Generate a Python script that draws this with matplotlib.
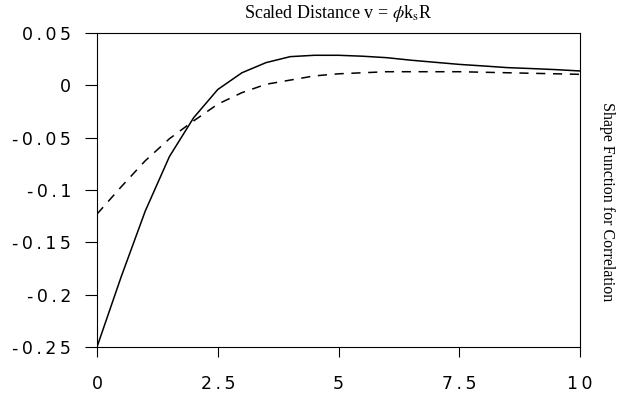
import matplotlib
matplotlib.use("Agg")
import matplotlib.pyplot as plt

# scaled distance v and the two shape functions
v = [0, 0.5, 1.0, 1.5, 2.0, 2.5, 3.0, 3.5, 4.0, 4.5, 5.0,
     5.5, 6.0, 6.5, 7.0, 7.5, 8.0, 8.5, 9.0, 9.5, 10.0]
solid = [-0.25, -0.183, -0.12, -0.068, -0.031, -0.004, 0.012, 0.0217, 0.0274, 0.0287, 0.0287,
         0.0278, 0.0264, 0.024, 0.022, 0.020, 0.0185, 0.0169, 0.016, 0.015, 0.0137]
dashed = [-0.123, -0.097, -0.072, -0.051, -0.034, -0.018, -0.007, 0.001, 0.005, 0.009, 0.011,
          0.012, 0.013, 0.013, 0.013, 0.013, 0.0125, 0.012, 0.0115, 0.011, 0.0105]

xticks = [0, 2.5, 5, 7.5, 10]
xtick_labels = ["0", "2.5", "5", "7.5", "10"]
yticks = [-0.25, -0.2, -0.15, -0.1, -0.05, 0, 0.05]
ytick_labels = ["-0.25", "-0.2", "-0.15", "-0.1", "-0.05", "0", "0.05"]


def spaced(s):
    # the original tick labels are letter-spaced
    return "\u2009".join(s)


plt.rcParams["mathtext.fontset"] = "stix"

fig = plt.figure(figsize=(6.29, 3.96), dpi=100)
ax = fig.add_axes([0.1542, 0.1237, 0.768, 0.793])

ax.plot(v, solid, color="black", linewidth=1.1)
ax.plot(v, dashed, color="black", linewidth=1.1, dashes=(6, 5))

ax.set_xlim(0, 10)
ax.set_ylim(-0.25, 0.05)

tick_font = {"family": "DejaVu Sans", "size": 12.5}
ax.set_xticks(xticks)
ax.set_xticklabels([spaced(t) for t in xtick_labels], fontdict=tick_font)
ax.set_yticks(yticks)
ax.set_yticklabels([spaced(t) for t in ytick_labels], fontdict=tick_font)
ax.tick_params(axis="x", direction="out", length=7, width=0.8, pad=13)
ax.tick_params(axis="y", direction="out", length=8.5, width=0.8, pad=10)

for s in ax.spines.values():
    s.set_linewidth(0.8)

ax.set_title(r"Scaled Distance v = $\phi$k$_{\rm s}$R", fontfamily="Liberation Serif",
             fontsize=13, pad=11)
fig.text(607 / 629, 1 - 202 / 396, "Shape Function for Correlation", rotation=-90,
         ha="center", va="center", fontfamily="Liberation Serif", fontsize=11.5)

plt.savefig("out.png", dpi=100)
